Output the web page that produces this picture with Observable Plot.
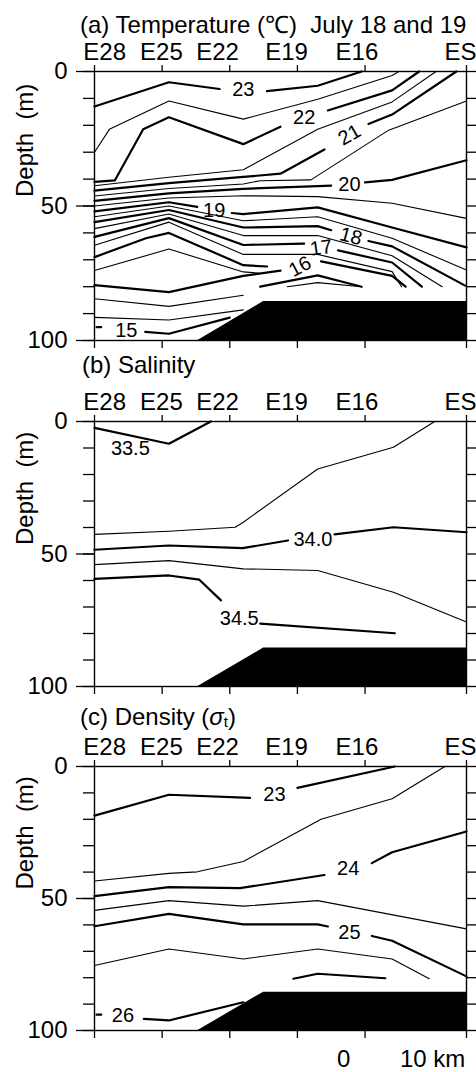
<!DOCTYPE html>
<html><head><meta charset="utf-8">
<script src="https://cdn.jsdelivr.net/npm/d3@7"></script>
<script src="https://cdn.jsdelivr.net/npm/@observablehq/plot@0.6"></script>
<style>
body{margin:0;background:#fff;}
#wrap{position:relative;width:476px;height:1072px;overflow:hidden;font-family:Arial,"Liberation Sans",sans-serif;color:#000;background:#fff;}
.t{position:absolute;font-size:24px;line-height:1;white-space:nowrap;}
.p{position:absolute;left:0;}
sub{font-size:15px;vertical-align:-2px;line-height:0;}
</style></head><body><div id="wrap"></div>
<script>
const FONT = 'Arial, "Liberation Sans", sans-serif';
// station ticks (along-section position units) and names
const stationNames = ["E28","E25","E22","E19","E16","ES"];
const stationPos = [0,1,2,3,4,5.5];
const stationLabelPos = [0.15,0.99,1.82,2.84,3.88,5.41];
const depthMajor = [0,50,100];
const depthMinor = [0,10,20,30,40,50,60,70,80,90,100];
// sea floor outline [position, depth]
const seafloor = [[1.53,100],[2.5,85.5],[5.5,85.5]];

// ---- (a) Temperature contours: segments of [position, depth]
const tempBold = [
  [[0,13],[1.1,4],[1.85,6.5]],
  [[2.55,7.3],[3.3,5.3],[3.95,0]],
  [[0,41],[0.3,40.5],[0.72,21.5],[1.1,17],[2.2,27],[2.75,20.5]],
  [[3.45,14.5],[4.4,7],[4.8,0]],
  [[0,44.3],[1.1,41.5],[2.2,39.2],[2.75,38],[3.4,29]],
  [[4.05,19.5],[4.4,16],[5.35,0]],
  [[0,48.1],[1.1,45.3],[2.2,43.6],[3.3,42.6],[3.5,42.4]],
  [[4.0,41.2],[4.4,40.3],[5.5,33]],
  [[0,52],[1.1,48.6],[1.52,50.3]],
  [[2.03,52.6],[2.2,53],[3.3,50.5],[4.4,58],[5.5,65.4]],
  [[0,56],[1.1,51.5],[2.2,58],[3.3,57.5],[3.5,59]],
  [[4.05,63],[4.4,65],[5.48,79.6]],
  [[0,61.5],[1.1,54.5],[2.2,64.5],[3.1,64]],
  [[3.6,66.5],[4.4,71],[4.84,80]],
  [[0,69],[0.76,62],[1.1,60],[2.2,72],[2.55,72.5]],
  [[0,79.4],[1.1,82],[2.2,76],[2.75,74]],
  [[3.35,70.6],[4.4,76],[4.6,80]],
  [[0.03,95],[0.1,95]],
  [[0.75,96.8],[1.1,97.5],[2.0,91.5]],
  [[2.45,80],[3.3,75.8],[3.95,80]]
];
const tempThin = [
  [[0,30],[0.22,21.5],[1.1,11],[2.2,17.7],[3.3,10.3],[4.4,1.5],[4.5,0]],
  [[0,42.5],[1.1,39.3],[2.2,36.5],[3.3,21.5],[4.4,11.3],[5.05,0]],
  [[0,46.3],[1.1,43.5],[2.2,41.8],[2.45,40.6],[3.2,40.3],[4.35,21.8],[5.5,11]],
  [[0,50],[1.1,47],[2.2,46.2],[3.3,46.5],[4.4,49],[5.5,54.6]],
  [[0,54],[1.1,50],[2.2,55.5],[3.3,54],[4.4,62],[5.5,73.8]],
  [[0,58.4],[1.1,53],[2.2,61],[3.3,61],[4.4,68.5],[5.14,80]],
  [[0,64.6],[1.1,56],[2.2,68],[3.3,68],[4.4,74.4],[4.54,80]],
  [[0,74],[1.1,66],[2.2,74.5],[2.45,75]],
  [[0,84.5],[1.1,87.3],[2.2,83.2]],
  [[0,91.4],[1.1,92.4],[2.2,88.6]],
  [[2.85,80],[3.3,78.5],[3.95,80]]
];
const tempLabels = [
  ["23",2.2,6.6,0],["22",3.1,17.3,0],["21",3.77,23.6,-30],["20",3.77,42,0],
  ["19",1.77,51.8,0],["18",3.79,61.3,15],["17",3.35,65.6,-8],["16",3.04,72.5,-28],["15",0.47,96.5,0]
];

// ---- (b) Salinity contours
const salBold = [
  [[0,2.4],[1.1,8.4],[1.72,0]],
  [[0,48.4],[1.1,46.8],[2.19,47.8],[2.86,44.9]],
  [[3.55,42.6],[4.42,39.9],[5.5,41.8]],
  [[0,59.4],[1.1,58.1],[1.55,59.7],[1.87,67.5]],
  [[2.45,76.3],[4.44,79.9]]
];
const salThin = [
  [[0,42.6],[1.1,41.4],[2.08,39.9],[2.2,38],[3.3,17.9],[4.42,9.7],[5.03,0]],
  [[0,54],[1.1,52.5],[2.2,55.6],[3.3,56.2],[4.42,64.4],[5.5,75.7]]
];
const salLabels = [["33.5",0.53,10.4,0],["34.0",3.23,44.7,0],["34.5",2.14,74.2,0]];

// ---- (c) Density (sigma-t) contours
const denBold = [
  [[0,18.6],[1.1,10.7],[2.3,11.9]],
  [[3.0,8.1],[4.44,0]],
  [[0,49.1],[1.1,45.7],[2.15,46.1],[3.4,41.1]],
  [[4.1,36.6],[4.4,32.5],[5.5,24.6]],
  [[0,60.5],[1.1,55.8],[2.2,59.8],[3.3,59.8],[3.45,60.6]],
  [[4.1,64.2],[4.4,66],[5.5,79.5]],
  [[0.03,94],[0.1,94]],
  [[0.73,95.6],[1.1,96.2],[2.2,89.3]],
  [[2.94,80.4],[3.3,78.5],[4.3,80.2]]
];
const denThin = [
  [[0,43.4],[1.1,40.5],[1.52,39.9],[2.2,36],[3.35,20],[4.4,12.2],[5.18,0]],
  [[0,54.5],[1.1,50.8],[2.2,52.9],[3.3,50.8],[5.5,61.5]],
  [[0,75.4],[1.1,69.1],[2.2,72.9],[3.3,69.1],[4.4,72.9],[4.95,80.4]]
];
const denLabels = [["23",2.66,10.5,0],["24",3.75,38.7,0],["25",3.77,62.9,0],["26",0.42,94.3,0]];

function flat(segs){ return segs.flatMap((s,i)=>s.map(([x,d])=>({x,d,id:i}))); }

function section({bold, thin, labels, top, marginTop, height}){
  const svg = Plot.plot({
    width: 476, height, marginTop, marginBottom: 15, marginLeft: 94, marginRight: 10,
    x: {domain: [0,5.5]},
    y: {domain: [0,100], reverse: true},
    style: {fontFamily: FONT, fontSize: "24px", background: "transparent", color: "#000", overflow: "visible"},
    marks: [
      Plot.areaY(seafloor, {x: d=>d[0], y1: 100, y2: d=>d[1], fill: "#000"}),
      Plot.line(flat(thin), {x: "x", y: "d", z: "id", stroke: "#000", strokeWidth: 1.1}),
      Plot.line(flat(bold), {x: "x", y: "d", z: "id", stroke: "#000", strokeWidth: 2.2}),
      Plot.text(labels, {x: d=>d[1], y: d=>d[2], text: d=>d[0], rotate: d=>d[3], fontSize: 20, fill: "#000"}),
      Plot.frame({stroke: "#000", strokeWidth: 1.4}),
      Plot.axisX(stationPos, {anchor: "top", tickSize: 7, strokeWidth: 1.3, label: null, tickFormat: () => ""}),
      Plot.text(stationNames, {x: (d,i)=>stationLabelPos[i], frameAnchor: "top", dy: -12, lineAnchor: "bottom", fontSize: 24, fill: "#000"}),
      Plot.axisX(stationPos, {anchor: "bottom", tickSize: 8, strokeWidth: 1.3, label: null, tickFormat: () => ""}),
      Plot.axisY(depthMinor, {anchor: "left", tickSize: 11, strokeWidth: 1.3, label: null, tickFormat: () => ""}),
      Plot.axisY(depthMajor, {anchor: "left", tickSize: 18, tickPadding: 9, strokeWidth: 1.3, label: null}),
      Plot.axisY(depthMinor, {anchor: "right", tickSize: 10, strokeWidth: 1.3, label: null, tickFormat: () => ""}),
      Plot.text(["Depth  (m)"], {frameAnchor: "left", dx: -69, dy: -9, rotate: -90, fontSize: 24, fill: "#000"})
    ]
  });
  svg.classList.add("p");
  svg.style.top = top + "px";
  return svg;
}

const wrap = document.getElementById("wrap");
function txt(html, left, top){ const d=document.createElement("div"); d.className="t"; d.innerHTML=html; d.style.left=left+"px"; d.style.top=top+"px"; wrap.appendChild(d); }

wrap.appendChild(section({bold: tempBold, thin: tempThin, labels: tempLabels, top: 0, marginTop: 71, height: 355}));
wrap.appendChild(section({bold: salBold, thin: salThin, labels: salLabels, top: 355, marginTop: 66, height: 346}));
wrap.appendChild(section({bold: denBold, thin: denThin, labels: denLabels, top: 701, marginTop: 65, height: 344}));

txt("(a) Temperature (℃)&nbsp; July 18 and 19", 80, 13);
txt("(b) Salinity", 82, 353);
txt("(c) Density (<i>σ</i><sub>t</sub>)", 80, 705);
txt("0", 337, 1047);
txt("10 km", 400, 1047);
</script></body></html>
